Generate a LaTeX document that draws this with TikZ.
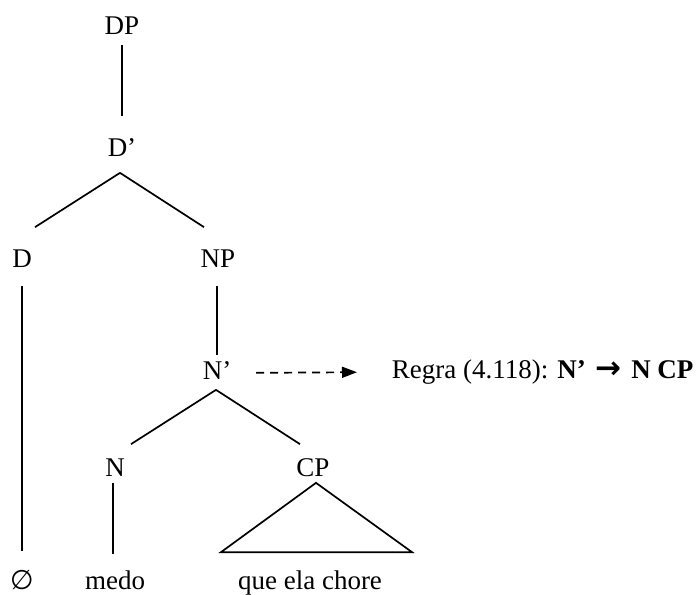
\documentclass[tikz,border=0pt]{standalone}
\usepackage{fontspec}
\setmainfont{Liberation Serif}
\newfontfamily\symfont{DejaVu Sans}
\usetikzlibrary{arrows.meta}

\tikzset{
  cat/.style={inner sep=0pt, text height=9pt, text depth=0pt, font=\fontsize{13.5}{16}\selectfont},
  word/.style={cat},
  ruletip/.style={dash pattern=on 4pt off 3pt, -{Triangle[length=7.5pt,width=5.5pt]}},
}

\begin{document}
\begin{tikzpicture}[x=0.5pt, y=-0.5pt, line width=0.85pt]
    \useasboundingbox (0,0) rectangle (697,595);

    % ==========================================
    % CATEGORY LABELS
    % ==========================================
    \node[cat] (DP)   at (122,25)  {DP};
    \node[cat] (Dbar) at (122,147) {D’};
    \node[cat] (D)    at (22,258)  {D};
    \node[cat] (NP)   at (218,258) {NP};
    \node[cat] (Nbar) at (217,370) {N’};
    \node[cat] (N)    at (115,467) {N};
    \node[cat] (CP)   at (313,467) {CP};

    % Leaves
    \node[word] (empty) at (22,580)  {\symfont ∅};
    \node[word] (medo)  at (115,580) {medo};
    \node[word] (que)   at (310,580) {que ela chore};

    % Rule
    \node[cat, anchor=west] (regra) at (391,369)
        {Regra (4.118): \textbf{N’\hspace{1.5pt} {\symfont\fontsize{15.5}{18}\selectfont→}\hspace{1.5pt} N CP}};

    % ==========================================
    % BRANCHES
    % ==========================================
    \draw ([yshift=-5pt]DP.south) -- ([yshift=10.5pt]Dbar.north);
    \draw ([xshift=-1pt,yshift=-8pt]Dbar.south) -- ([xshift=6.5pt,yshift=10.5pt]D.north);
    \draw ([xshift=-1pt,yshift=-8pt]Dbar.south) -- ([xshift=-7pt,yshift=10.5pt]NP.north);
    \draw ([yshift=-9pt]D.south) -- ([yshift=9.5pt]empty.north);
    \draw ([xshift=-0.5pt,yshift=-9pt]NP.south) -- ([yshift=2.5pt]Nbar.north);
    \draw ([xshift=-0.5pt,yshift=-5pt]Nbar.south) -- ([xshift=8pt,yshift=6.5pt]N.north);
    \draw ([xshift=-0.5pt,yshift=-5pt]Nbar.south) -- ([xshift=-6.5pt,yshift=6.5pt]CP.north);
    \draw ([xshift=-1pt,yshift=-3pt]N.south) -- ([xshift=-1pt,yshift=8pt]medo.north);

    % CP triangle
    \draw ([xshift=1.5pt,yshift=-3pt]CP.south) -- ([xshift=-44.5pt,yshift=9pt]que.north)
        -- ([xshift=51pt,yshift=9pt]que.north) -- cycle;

    % Dashed arrow to the rule
    \draw[ruletip, shorten <=12pt, shorten >=17pt] ([yshift=-1.5pt]Nbar.east) -- ([yshift=-1.5pt]regra.west);

\end{tikzpicture}
\end{document}
